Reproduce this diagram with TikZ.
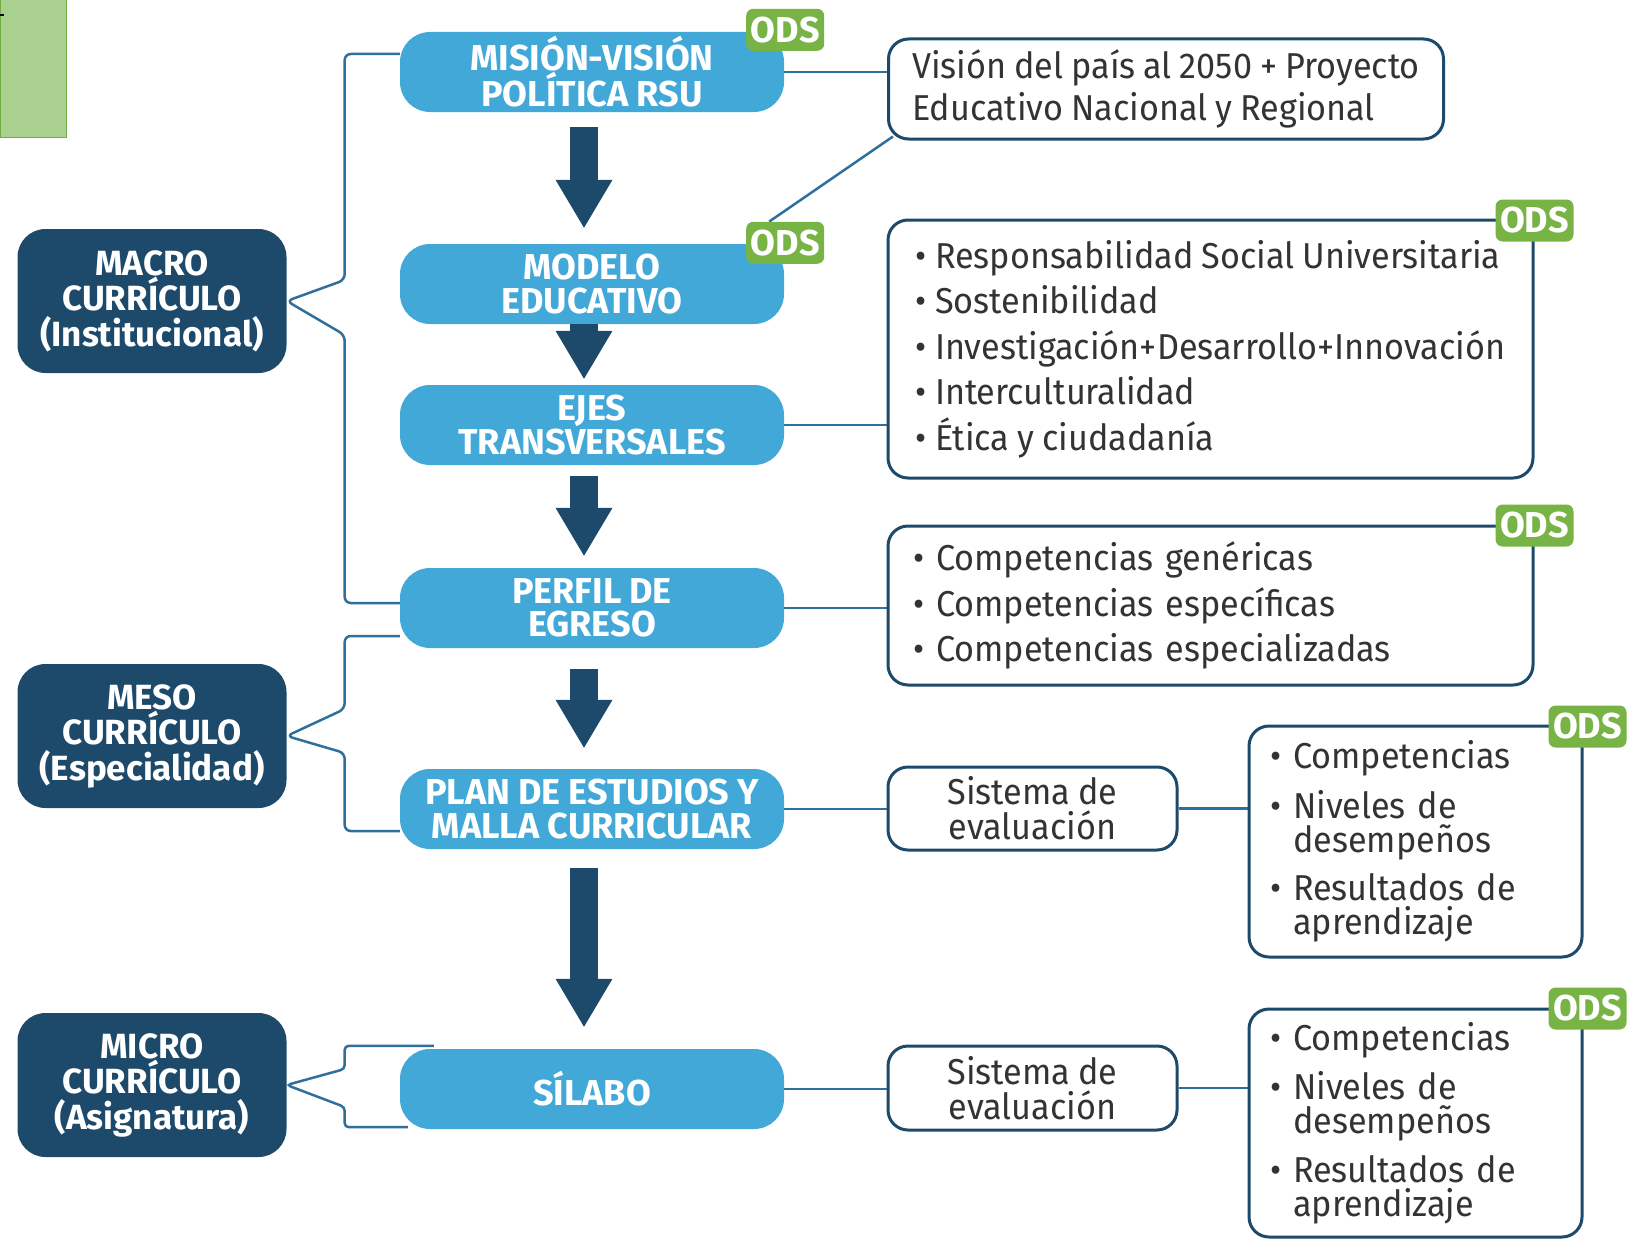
\documentclass[tikz,border=0pt]{standalone}
\usepackage{fontspec}
\setmainfont{Fira Sans}[FakeStretch=0.95]
\newfontfamily\headfont{Fira Sans}[FakeStretch=1.0]
\usetikzlibrary{arrows.meta}
\usetikzlibrary{positioning}
\usetikzlibrary{backgrounds}

\definecolor{navy}{HTML}{1D4A6B}
\definecolor{skyblue}{HTML}{42A8D8}
\definecolor{odsgreen}{HTML}{78B345}
\definecolor{linkblue}{HTML}{2F6F9C}
\definecolor{txtgray}{HTML}{333333}
\definecolor{greenfill}{HTML}{A9D08E}
\definecolor{greenedge}{HTML}{70AD47}

\newcommand\boxfont[2]{\fontsize{#1}{#2}\selectfont\spaceskip=8pt plus 4pt minus 2pt\relax}

\begin{document}
\begin{tikzpicture}[x=1pt, y=-1pt,
    level/.style={fill=navy, text=white, rounded corners=28pt, minimum width=269pt, minimum height=144pt, inner sep=0pt, align=center, font=\headfont\bfseries\boxfont{35}{35.5}},
    stage/.style={fill=skyblue, text=white, rounded corners=30pt, minimum width=384pt, minimum height=80pt, inner sep=0pt, align=center, font=\headfont\bfseries\boxfont{36}{33.5}},
    ods/.style={fill=odsgreen, text=white, rounded corners=7pt, minimum width=78pt, minimum height=42pt, inner sep=0pt, font=\headfont\fontsize{36}{36}\selectfont\bfseries},
    infobox/.style={draw=navy, line width=3pt, rounded corners=20pt, fill=white, text=txtgray, inner ysep=0pt},
    link/.style={linkblue, line width=2.5pt},
    bigarrow/.style={navy, line width=28pt, -{Triangle[width=57pt, length=48pt, line width=0pt]}}]
    \useasboundingbox (0,0) rectangle (1640,1239);
    \draw[greenedge, fill=greenfill, line width=1pt] (0,0) rectangle (66,137);
    \draw[line width=2pt] (0,15) -- (4,15);

    % niveles
    \node[level] (macro) at (152,301) {MACRO\\CURRÍCULO\\(Institucional)};
    \node[level] (meso) at (152,736) {MESO\\CURRÍCULO\\(Especialidad)};
    \node[level] (micro) at (152,1085) {MICRO\\CURRÍCULO\\(Asignatura)};

    % columna central
    \node[stage] (mision) at (592,72) {MISIÓN-VISIÓN\\POLÍTICA RSU};
    \node[stage] (modelo) at (592,284) {MODELO\\EDUCATIVO};
    \node[stage] (ejes) at (592,425) {EJES\\TRANSVERSALES};
    \node[stage] (perfil) at (592,608) {PERFIL DE\\EGRESO};
    \node[stage] (plan) at (592,809) {PLAN DE ESTUDIOS Y\\MALLA CURRICULAR};
    \node[stage] (silabo) at (592,1089) {SÍLABO};

    \draw[bigarrow, shorten <=15pt, shorten >=16pt] ([xshift=-8pt]mision.south) -- ([xshift=-8pt]modelo.north);
    \draw[bigarrow, shorten >=6pt] ([xshift=-8pt]modelo.south) -- ([xshift=-8pt]ejes.north);
    \draw[bigarrow, shorten <=11pt, shorten >=12pt] ([xshift=-8pt]ejes.south) -- ([xshift=-8pt]perfil.north);
    \draw[bigarrow, shorten <=21pt, shorten >=21pt] ([xshift=-8pt]perfil.south) -- ([xshift=-8pt]plan.north);
    \draw[bigarrow, shorten <=19pt, shorten >=22pt] ([xshift=-8pt]plan.south) -- ([xshift=-8pt]silabo.north);

    % cuadros de la derecha
    \node[infobox, minimum width=555pt, minimum height=100pt, inner xsep=10pt, align=left,
          font=\boxfont{36}{42}] (vision) at (1166,89)
          {Visión del país al 2050 + Proyecto\\Educativo Nacional y Regional};
    \node[infobox, minimum width=645pt, minimum height=258pt, inner xsep=10pt, align=left,
          font=\boxfont{36}{45.5}] (rsu) at (1210.5,349)
          {• Responsabilidad Social Universitaria\\• Sostenibilidad\\• Investigación+Desarrollo+Innovación\\• Interculturalidad\\• Ética y ciudadanía};
    \node[infobox, minimum height=159pt, text width=595pt, inner xsep=25pt, align=left,
          font=\boxfont{36}{45.5}] (comp) at (1210.5,605.5)
          {• Competencias genéricas\\• Competencias específicas\\• Competencias especializadas};
    \node[infobox, minimum width=289pt, minimum height=83pt, align=center,
          font=\boxfont{36}{35}] (sisa) at (1032.5,808.5) {Sistema de\\evaluación};
    \node[infobox, minimum height=231pt, text width=291pt, inner xsep=21pt, align=left,
          font=\boxfont{36}{34}] (lista) at (1415.5,841.5)
          {• Competencias\\[13pt]• Niveles de\\\phantom{• }desempeños\\[13pt]• Resultados de\\\phantom{• }aprendizaje};
    \node[infobox, minimum width=289pt, minimum height=84pt, align=center,
          font=\boxfont{36}{35}] (sisb) at (1032.5,1088) {Sistema de\\evaluación};
    \node[infobox, minimum height=228pt, text width=291pt, inner xsep=21pt, align=left,
          font=\boxfont{36}{34}] (listb) at (1415.5,1123)
          {• Competencias\\[13pt]• Niveles de\\\phantom{• }desempeños\\[13pt]• Resultados de\\\phantom{• }aprendizaje};

    % etiquetas ODS
    \node[ods] (odsmision) at ([xshift=1pt,yshift=2pt]mision.north east) {ODS};
    \node[ods] (odsmodelo) at ([xshift=1pt,yshift=1pt]modelo.north east) {ODS};
    \node[ods] (odsrsu) at ([yshift=-2pt]rsu.north east) {ODS};
    \node[ods] (odscomp) at ([yshift=-1pt]comp.north east) {ODS};
    \node[ods] (odslista) at ([xshift=4pt,yshift=-2pt]lista.north east) {ODS};
    \node[ods] (odslistb) at ([xshift=4pt,yshift=-1pt]listb.north east) {ODS};

    \begin{scope}[on background layer]
    \draw[link] (mision) -- (mision -| vision.west);
    \draw[link] ([xshift=-16pt]odsmodelo.north) -- ([xshift=6pt,yshift=4pt]vision.south west);
    \draw[link] (ejes) -- (ejes -| rsu.west);
    \draw[link] (perfil) -- (perfil -| comp.west);
    \draw[link] (plan) -- (plan -| sisa.west);
    \draw[link] (sisa) -- (sisa -| lista.west);
    \draw[link] (silabo) -- (silabo -| sisb.west);
    \draw[link] (sisb) -- (sisb -| listb.west);
    % llaves
    \draw[link, rounded corners=6pt] ([yshift=18pt]mision.west) -| ([xshift=58pt,yshift=21pt]macro.east)
        -- (macro.east) -- ([xshift=58pt,yshift=-34pt]macro.east) |- ([yshift=5pt]perfil.west);
    \draw[link, rounded corners=6pt] ([yshift=-28pt]perfil.west) -| ([xshift=58pt,yshift=27pt]meso.east)
        -- (meso.east) -- ([xshift=58pt,yshift=-17pt]meso.east) |- ([yshift=-22pt]plan.west);
    \draw[link, rounded corners=4pt] ([xshift=34pt,yshift=3pt]silabo.north west) -| ([xshift=58pt,yshift=16pt]micro.east)
        -- (micro.east) -- ([xshift=58pt,yshift=-22pt]micro.east) |- ([xshift=8pt,yshift=2pt]silabo.south west);
    \end{scope}
\end{tikzpicture}
\end{document}
